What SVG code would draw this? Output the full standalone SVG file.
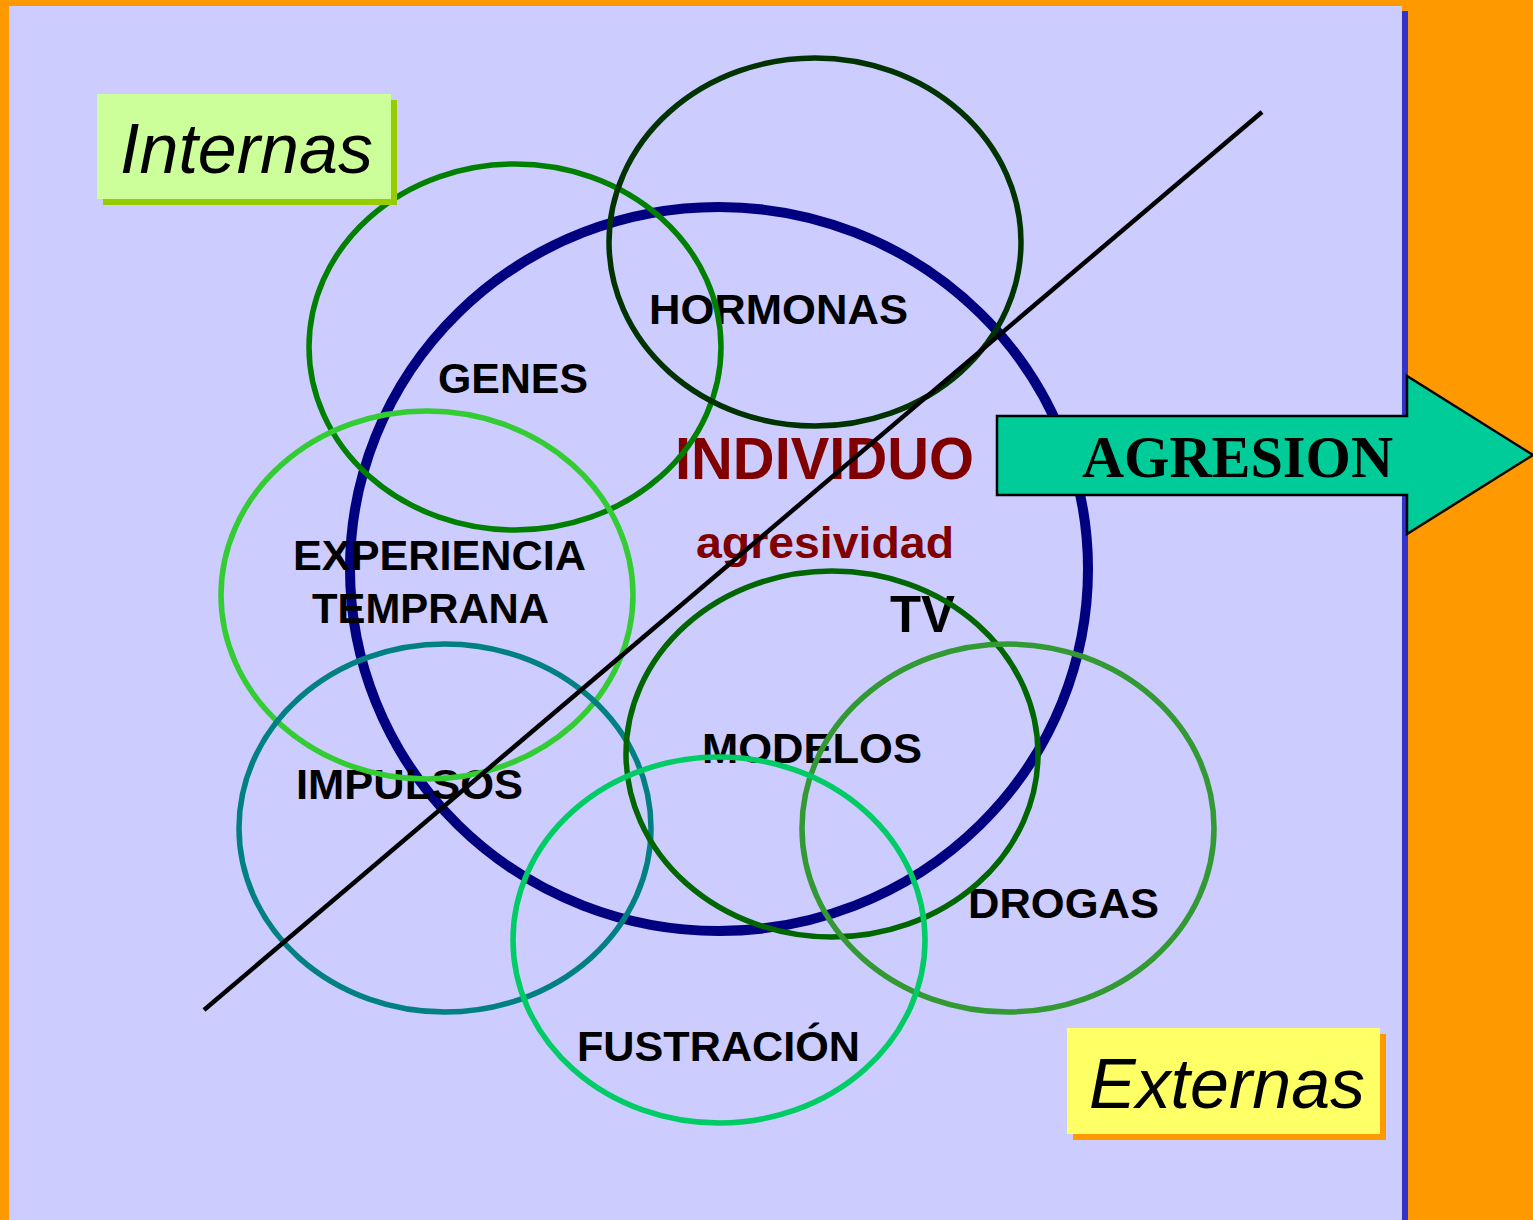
<svg xmlns="http://www.w3.org/2000/svg" width="1533" height="1220" viewBox="0 0 1533 1220">
<style>
.c{fill:none;stroke-width:5.5}
.t{font-family:"Liberation Sans",Arial,sans-serif;font-weight:bold;font-size:43px;fill:#000}
.lbl{font-family:"Liberation Sans",Arial,sans-serif;font-style:italic;font-size:70px;fill:#000}
</style>
<rect x="0" y="0" width="1533" height="1220" fill="#FF9900"/>
<rect x="1402" y="11" width="6" height="1209" fill="#3333CC"/>
<rect x="9" y="6" width="1393" height="1214" fill="#CCCCFF"/>

<g id="individuo">
<ellipse cx="719" cy="569" rx="369" ry="362" fill="none" stroke="#000080" stroke-width="10"/>
</g>

<g id="labels-under">
<text class="t" x="293" y="570" textLength="293" lengthAdjust="spacingAndGlyphs">EXPERIENCIA</text>
<text class="t" x="312" y="623" textLength="237" lengthAdjust="spacingAndGlyphs">TEMPRANA</text>
<text class="t" x="649" y="324" textLength="259" lengthAdjust="spacingAndGlyphs">HORMONAS</text>
<text class="t" x="438" y="393" textLength="150" lengthAdjust="spacingAndGlyphs">GENES</text>
<text class="t" x="296" y="799" textLength="227" lengthAdjust="spacingAndGlyphs">IMPULSOS</text>
<text class="t" x="702" y="763" textLength="220" lengthAdjust="spacingAndGlyphs">MODELOS</text>
<text class="t" x="968" y="918" textLength="191" lengthAdjust="spacingAndGlyphs">DROGAS</text>
<text class="t" x="577" y="1061" textLength="283" lengthAdjust="spacingAndGlyphs">FUSTRACIÓN</text>
<text class="t" x="890" y="632" style="font-size:51px" textLength="65" lengthAdjust="spacingAndGlyphs">TV</text>
<text class="t" x="675" y="479" style="font-size:59px;fill:#800000" textLength="299" lengthAdjust="spacingAndGlyphs">INDIVIDUO</text>
<text class="t" x="696" y="558" style="font-size:45px;fill:#800000" textLength="258" lengthAdjust="spacingAndGlyphs">agresividad</text>
</g>

<g id="genes"><ellipse class="c" cx="515" cy="347" rx="206" ry="183" stroke="#008000"/></g>
<g id="hormonas"><ellipse class="c" cx="815" cy="242" rx="206" ry="184" stroke="#003300"/></g>
<g id="experiencia"><ellipse class="c" cx="427" cy="595" rx="206" ry="184" stroke="#33CC33"/></g>
<g id="impulsos"><ellipse class="c" cx="445" cy="828" rx="206" ry="184" stroke="#008080"/></g>
<g id="modelos"><ellipse class="c" cx="832" cy="754" rx="206" ry="183" stroke="#006600"/></g>
<g id="drogas"><ellipse class="c" cx="1008" cy="828" rx="206" ry="184" stroke="#339933"/></g>
<g id="fustracion"><ellipse class="c" cx="719" cy="940" rx="206" ry="183" stroke="#00CC66"/></g>

<g id="connectors">
<line x1="204" y1="1010" x2="1262" y2="112" stroke="#000" stroke-width="4.5"/>
</g>

<g id="agresion">
<polygon points="997,416 1407,416 1407,376 1533,455 1407,534 1407,495 997,495" fill="#00CC99" stroke="#000" stroke-width="2.5"/>
<text x="1082" y="477" font-family="'Liberation Serif','Times New Roman',serif" font-weight="bold" font-size="60" textLength="311" lengthAdjust="spacingAndGlyphs">AGRESION</text>
</g>

<g id="internas">
<rect x="103" y="100" width="294" height="105" fill="#99CC00"/>
<rect x="97" y="94" width="294" height="105" fill="#CCFF99"/>
<text class="lbl" x="120" y="173" textLength="253" lengthAdjust="spacingAndGlyphs">Internas</text>
</g>

<g id="externas">
<rect x="1073" y="1034" width="313" height="106" fill="#FF9900"/>
<rect x="1067" y="1028" width="313" height="106" fill="#FFFF66"/>
<text class="lbl" x="1089" y="1108" textLength="276" lengthAdjust="spacingAndGlyphs">Externas</text>
</g>
</svg>
